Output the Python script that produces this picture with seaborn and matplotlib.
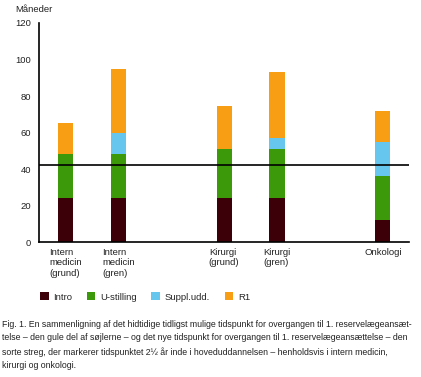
import numpy as np
import pandas as pd
import matplotlib
matplotlib.use("Agg")
import matplotlib.pyplot as plt
import seaborn as sns
from matplotlib.patches import Patch

# --- data (months) ---
categories = ["Intern\nmedicin\n(grund)", "Intern\nmedicin\n(gren)",
              "Kirurgi\n(grund)", "Kirurgi\n(gren)", "Onkologi"]
positions = [0, 1, 3, 4, 6]
intro = [24, 24, 24, 24, 12]
u_stilling = [24, 24, 27, 27, 24]
suppl_udd = [0, 12, 0, 6, 19]
r1 = [17, 35, 23.5, 36, 17]
marker_line = 42

series_names = ["Intro", "U-stilling", "Suppl.udd.", "R1"]
colors = ["#3b0008", "#3c9a0a", "#66c6ee", "#f79e14"]

caption = ("Fig. 1. En sammenligning af det hidtidige tidligst mulige tidspunkt for overgangen til 1. reservelægeansæt-\n"
           "telse – den gule del af søjlerne – og det nye tidspunkt for overgangen til 1. reservelægeansættelse – den\n"
           "sorte streg, der markerer tidspunktet 2½ år inde i hoveduddannelsen – henholdsvis i intern medicin,\n"
           "kirurgi og onkologi.")

df = pd.DataFrame({"pos": positions, "Intro": intro, "U-stilling": u_stilling,
                   "Suppl.udd.": suppl_udd, "R1": r1})
# cumulative tops for overlay-style stacking
cum = df[series_names].cumsum(axis=1)

sns.set_style("white")
plt.rcParams["font.family"] = ["Liberation Sans", "DejaVu Sans"]
plt.rcParams["font.size"] = 6.8

fig = plt.figure(figsize=(4.21, 3.77), dpi=100)
ax = fig.add_axes([0.093, 0.358, 0.879, 0.581])

# draw from the top segment down so each lower segment covers the one above
for name, color in reversed(list(zip(series_names, colors))):
    sns.barplot(x=df["pos"], y=cum[name], native_scale=True, color=color,
                width=0.29, saturation=1, ax=ax, linewidth=0, errorbar=None)

ax.axhline(marker_line, color="black", lw=1.2)

ax.set_xlim(-0.5, 6.5)
ax.set_ylim(0, 120)
ax.set_yticks(np.arange(0, 121, 20))
ax.set_xticks(positions)
ax.set_xticklabels(categories, multialignment="left", color="#222222", linespacing=1.25)
ax.tick_params(axis="x", length=0, pad=4)
ax.tick_params(axis="y", length=4, width=1.2, colors="black", labelcolor="#222222", pad=2)
ax.set_xlabel("")
ax.set_ylabel("")
for side in ["top", "right"]:
    ax.spines[side].set_visible(False)
for side in ["left", "bottom"]:
    ax.spines[side].set_color("black")
    ax.spines[side].set_linewidth(1.2)

fig.text(0.036, 0.986, "Måneder", ha="left", va="top", color="#222222")

handles = [Patch(facecolor=c, edgecolor="none", label=n) for n, c in zip(series_names, colors)]
fig.legend(handles=handles, loc="center left", bbox_to_anchor=(0.075, 0.212), ncol=4,
           frameon=False, handlelength=0.9, handleheight=0.9, handletextpad=0.5,
           columnspacing=1.55, fontsize=6.8)

fig.text(0.005, 0.151, caption, ha="left", va="top", fontsize=6.35,
         linespacing=1.6, color="#222222")

fig.savefig("out.png", dpi=100)
